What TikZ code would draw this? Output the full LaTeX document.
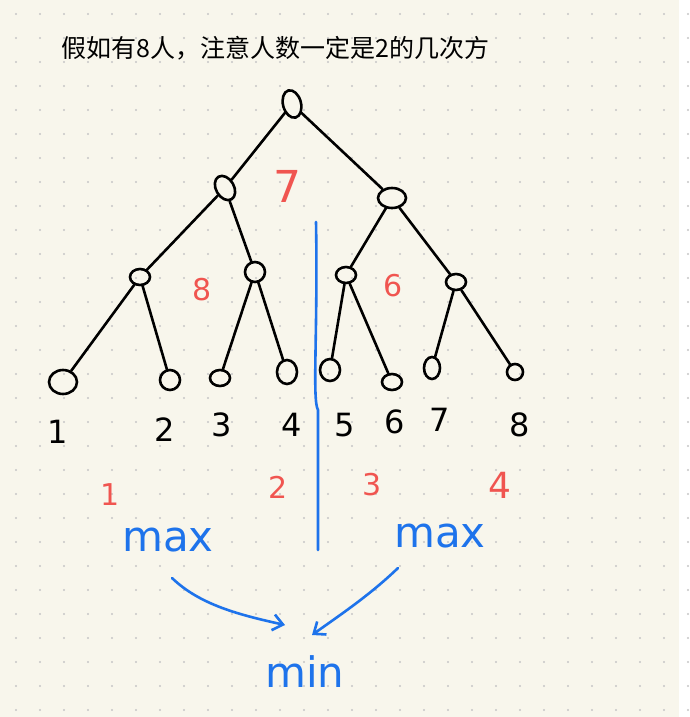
\documentclass[tikz,border=0pt]{standalone}
\usepackage{fontspec}
\setmainfont{DejaVu Sans}
\newfontfamily\cjk{Noto Sans CJK SC}
\definecolor{bg}{RGB}{248,246,236}
\definecolor{hred}{RGB}{240,85,80}
\definecolor{hblue}{RGB}{30,115,235}
\usetikzlibrary{shapes.geometric,arrows.meta}
\begin{document}
\begin{tikzpicture}[x=1pt,y=-1pt,
  nd/.style={draw=black,line width=2.6pt,ellipse,minimum width=20pt,minimum height=16pt,inner sep=0pt},
  ed/.style={line width=2.6pt,black,line cap=round},
  num/.style={font=\fontsize{32}{32}\selectfont},
  rnum/.style={text=hred,font=\fontsize{30}{30}\selectfont},
  bl/.style={text=hblue,font=\fontsize{42}{42}\selectfont},
  arr/.style={hblue,line width=2.6pt,line cap=round,->,>={Straight Barb[length=10pt,width=16pt]}}]
\fill[bg] (0,0) rectangle (679,717);
\foreach \i in {0,...,28} \foreach \j in {0,...,29}
  \fill[gray!45] (16+24*\i,14+24*\j) circle (1.1pt);
\node[anchor=west,font=\cjk\fontsize{25}{25}\selectfont] (title) at (58,48) {假如有8人，注意人数一定是2的几次方};
\node[nd,minimum width=18pt,minimum height=28pt,rotate=15] (r) at (292,104) {};
\node[nd,minimum width=18pt,minimum height=26pt,rotate=30] (a) at (225,188) {};
\node[nd,minimum width=28pt,minimum height=20pt] (b) at (392,198) {};
\node[nd] (c) at (140,277) {};
\node[nd,minimum height=20pt] (d) at (255,272) {};
\node[nd] (e) at (346,275) {};
\node[nd] (f) at (456,282) {};
\node[nd,minimum width=28pt,minimum height=24pt] (l1) at (63,382) {};
\node[nd,minimum height=20pt] (l2) at (170,380) {};
\node[nd] (l3) at (220,378) {};
\node[nd,minimum height=24pt] (l4) at (287,372) {};
\node[nd,minimum height=22pt] (l5) at (330,370) {};
\node[nd] (l6) at (392,382) {};
\node[nd,minimum width=16pt,minimum height=22pt] (l7) at (432,368) {};
\node[nd,minimum width=16pt] (l8) at (515,372) {};
\draw[ed] (r) -- (a); \draw[ed] (r) -- (b);
\draw[ed] (a) -- (c); \draw[ed] (a) -- (d);
\draw[ed] (b) -- (e); \draw[ed] (b) -- (f);
\draw[ed] (c) -- (l1); \draw[ed] (c) -- (l2);
\draw[ed] (d) -- (l3); \draw[ed] (d) -- (l4);
\draw[ed] (e) -- (l5); \draw[ed] (e) -- (l6);
\draw[ed] (f) -- (l7); \draw[ed] (f) -- (l8);
\foreach \n/\x/\y in {1/58/432,2/165/430,3/222/425,4/292/425,5/345/425,6/395/422,7/440/420,8/520/425}
  \node[num] (n\n) at (\x,\y) {\n};
\node[rnum,font=\fontsize{44}{44}\selectfont] (r7) at (287,186) {7};
\node[rnum] (r8) at (202,290) {8};
\node[rnum] (r6) at (393,286) {6};
\node[rnum] (q1) at (110,495) {1};
\node[rnum] (q2) at (278,487) {2};
\node[rnum] (q3) at (372,485) {3};
\node[rnum,font=\fontsize{36}{36}\selectfont] (q4) at (500,485) {4};
\coordinate (vt) at (316,222);
\coordinate (vb) at (318,550);
\draw[hblue,line width=2.6pt,line cap=round] (vt) .. controls (318,330) and (312,400) .. (318,410) -- (vb);
\node[bl] (m1) at (168,540) {max};
\node[bl] (m2) at (440,536) {max};
\node[bl] (mn) at (305,672) {min};
\coordinate (s1) at (172,578); \coordinate (t1) at (285,625);
\coordinate (s2) at (398,568); \coordinate (t2) at (312,635);
\draw[arr] (s1) .. controls (200,605) and (240,615) .. (t1);
\draw[arr] (s2) .. controls (370,595) and (340,615) .. (t2);
\end{tikzpicture}
\end{document}
